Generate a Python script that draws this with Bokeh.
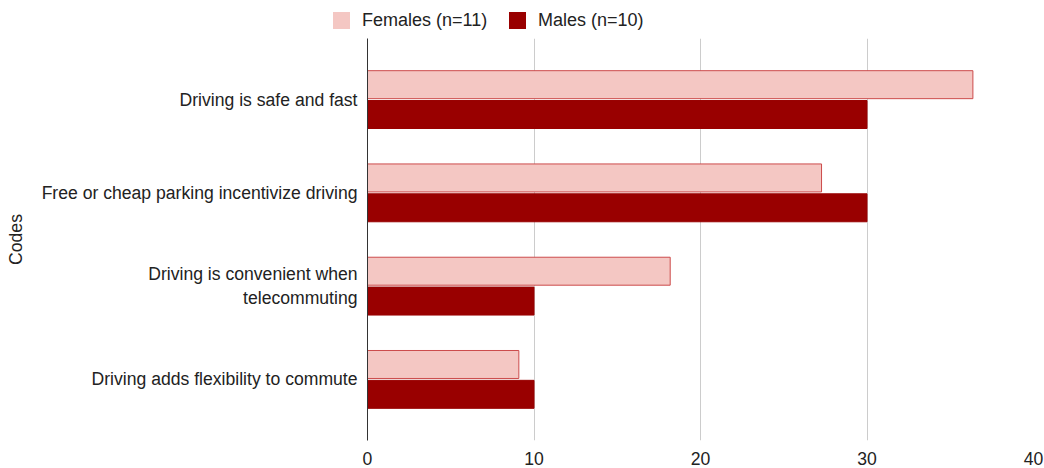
from bokeh.plotting import figure
from bokeh.layouts import column
from bokeh.models import ColumnDataSource, FactorRange, Range1d, Div
from bokeh.transform import dodge
from bokeh.embed import file_html
from bokeh.resources import INLINE

codes = [
    "Driving is safe and fast",
    "Free or cheap parking incentivize driving",
    "Driving is convenient when\ntelecommuting",
    "Driving adds flexibility to commute",
]
females = [36.36, 27.27, 18.18, 9.09]
males = [30.0, 30.0, 10.0, 10.0]
series_names = ["Females (n=11)", "Males (n=10)"]
x_ticks = [0, 10, 20, 30, 40]

FONT = "Liberation Sans"
FS = "17.6px"
TXT = "#222222"
F_FILL, F_LINE = "#f4c7c3", "#cc4b4b"
M_FILL = "#990000"

src = ColumnDataSource(dict(code=codes, females=females, males=males))

# ---- main chart ----
p = figure(
    width=1044, height=430,
    y_range=FactorRange(*list(reversed(codes)), range_padding=0.155, range_padding_units="absolute"),
    x_range=Range1d(0, 40),
    output_backend="svg", toolbar_location=None,
    min_border_left=367, min_border_right=11, min_border_top=0, min_border_bottom=28,
)
p.outline_line_color = None

p.hbar(y=dodge("code", 0.16, range=p.y_range), right="females", left=0, height=0.30,
       source=src, fill_color=F_FILL, line_color=F_LINE, line_width=1)
p.hbar(y=dodge("code", -0.16, range=p.y_range), right="males", left=0, height=0.30,
       source=src, fill_color=M_FILL, line_color=M_FILL, line_width=1)

p.xaxis.ticker = x_ticks
p.xaxis.axis_line_color = None
p.xaxis.major_tick_line_color = None
p.xaxis.minor_tick_line_color = None
p.xaxis.major_label_text_font = FONT
p.xaxis.major_label_text_font_size = FS
p.xaxis.major_label_text_color = TXT
p.xaxis.major_label_standoff = 5

p.yaxis.axis_line_color = "#333333"
p.yaxis.axis_line_width = 1
p.yaxis.major_tick_line_color = None
p.yaxis.minor_tick_line_color = None
p.yaxis.major_label_text_font = FONT
p.yaxis.major_label_text_font_size = FS
p.yaxis.major_label_text_color = TXT
p.yaxis.major_label_standoff = 4
p.yaxis.axis_label = "Codes"
p.yaxis.axis_label_text_font = FONT
p.yaxis.axis_label_text_font_size = FS
p.yaxis.axis_label_text_font_style = "normal"
p.yaxis.axis_label_text_color = TXT
p.yaxis.axis_label_standoff = 13

p.xgrid.grid_line_color = "#cccccc"
p.xgrid.ticker = x_ticks
p.ygrid.grid_line_color = None

# ---- legend strip on top (HTML legend with swatches) ----
sw = "position:absolute;top:12px;width:17px;height:17px;"
lb = "position:absolute;top:11px;line-height:19px;white-space:nowrap;"
legend_html = (
    f'<div style="position:relative;width:1044px;height:38px;font-family:\'{FONT}\';'
    f'font-size:18px;color:{TXT};">'
    f'<span style="{sw}left:333px;background:{F_FILL};"></span>'
    f'<span style="{lb}left:362px;">{series_names[0]}</span>'
    f'<span style="{sw}left:509px;background:{M_FILL};"></span>'
    f'<span style="{lb}left:538px;">{series_names[1]}</span>'
    '</div>'
)
legend_div = Div(text=legend_html, width=1044, height=38, margin=0)

layout = column(legend_div, p, spacing=0)
open("out.html", "w").write(file_html(layout, INLINE))
